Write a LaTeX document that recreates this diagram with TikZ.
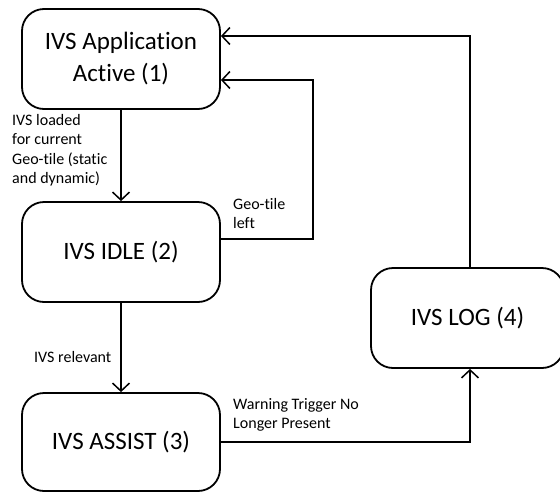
\documentclass[tikz,border=0pt]{standalone}
\usepackage{fontspec}
\setmainfont{Carlito}[Ligatures=NoCommon]
\usetikzlibrary{arrows.meta}
\begin{document}
\begin{tikzpicture}[x=1pt,y=-1pt,
  state/.style={draw, rounded corners=22pt, line width=1.8pt, font=\fontsize{25}{32}\selectfont, align=center, inner sep=0pt},
  conn/.style={line width=1.5pt, -{Straight Barb[length=8pt,width=17pt]}},
  lbl/.style={font=\fontsize{16}{19.5}\selectfont, align=left, anchor=north west, inner sep=0pt}]
\useasboundingbox (0,0) rectangle (560,493);
\node[state, minimum width=198pt, minimum height=100pt] (s1) at (121,59) {IVS Application\\Active (1)};
\node[state, minimum width=198pt, minimum height=100pt] (s2) at (121,252) {IVS IDLE (2)};
\node[state, minimum width=198pt, minimum height=98pt] (s3) at (121,442) {IVS ASSIST (3)};
\node[state, minimum width=193pt, minimum height=100pt] (s4) at (467.5,318) {IVS LOG (4)};

\draw[conn] (s1.south) -- (s2.north);
\draw[conn] (s2.south) -- (s3.north);
\draw[conn] ([yshift=13pt]s2.east) -- ++(92,0) |- ([yshift=-21pt]s1.east);
\draw[conn] ([xshift=2.5pt]s4.north) |- ([yshift=23pt]s1.east);
\draw[conn] (s3.east) -| ([xshift=2.5pt]s4.south);

\node[lbl] (l1) at (12,114) {IVS loaded\\for current\\Geo-tile (static\\and dynamic)};
\node[lbl] (l2) at (233,198) {Geo-tile\\left};
\node[lbl] (l3) at (34,351) {IVS relevant};
\node[lbl] (l4) at (233,398) {Warning Trigger No\\Longer Present};
\end{tikzpicture}
\end{document}
